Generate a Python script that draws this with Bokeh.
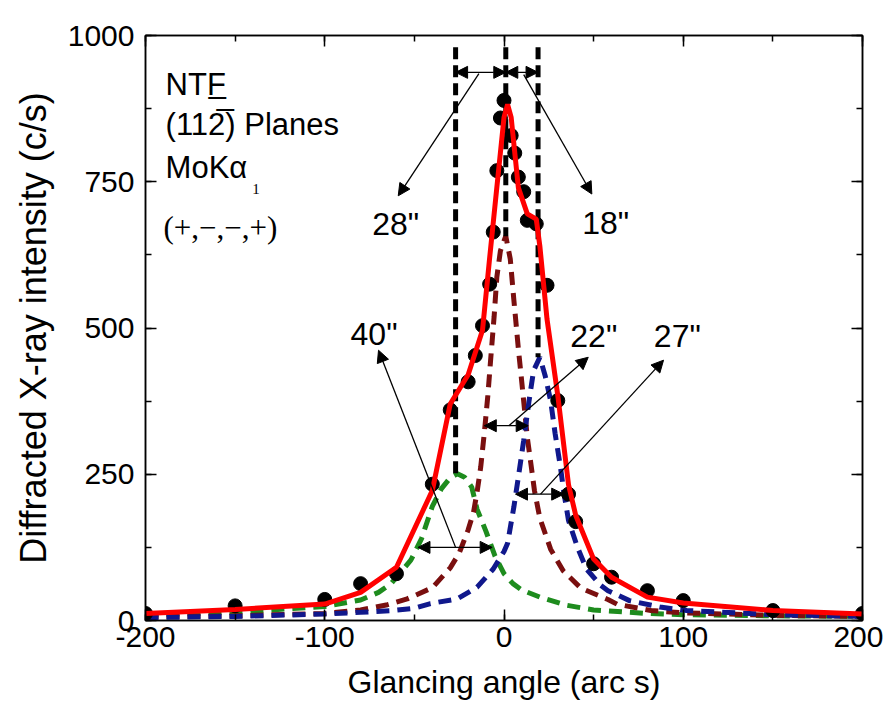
from bokeh.plotting import figure
from bokeh.models import (Range1d, LinearAxis, Arrow, NormalHead, SingleIntervalTicker,
                          CustomLabelingPolicy, CustomJSTickFormatter)
from bokeh.core.properties import value
from bokeh.embed import file_html
from bokeh.resources import INLINE

# measured points
data_x = [-200, -150, -100, -80, -60, -40, -30, -20, -16, -12, -8, -6, -4, -2, 0, 4, 6, 8, 11, 13, 18, 24, 30, 36, 40, 50, 60, 80, 100, 150, 200]
data_y = [12, 25, 36, 63, 80, 233, 360, 408, 453, 504, 575, 664, 769, 859, 889, 829, 799, 758, 733, 684, 678, 573, 376, 216, 169, 97, 74, 51, 34, 17, 12]

# total fit (red)
fit_x = [-200, -150, -100, -80, -60, -40, -30, -20, -12, -8, -4, 0, 2, 4, 8, 13, 18, 20, 24, 30, 36, 40, 50, 60, 80, 100, 150, 200]
fit_y = [12, 19, 28, 48, 91, 222, 370, 420, 496, 620, 740, 860, 882, 860, 740, 695, 686, 640, 515, 385, 232, 180, 105, 74, 40, 30, 17, 11]

# component 1 (green, 40")
g_x = [-200, -150, -100, -80, -70, -63, -57, -52, -46, -40, -35, -30, -26, -22, -18, -15, -10, -5, 0, 5, 10, 20, 35, 50, 80, 100, 150, 200]
g_y = [9, 14, 24, 35, 48, 63, 85, 103, 140, 195, 225, 244, 251, 245, 228, 190, 152, 110, 80, 63, 52, 40, 26, 18, 12, 10, 8, 7]

# component 2 (dark red, 22")
b_x = [-200, -150, -100, -80, -65, -54, -40, -30, -25, -20, -17, -15, -13, -11, -9, -7.5, -5.5, -4, -2, 1, 3.5, 5.5, 8, 10.5, 13, 15, 17, 20, 26, 33, 43, 58, 63, 82, 100, 150, 200]
b_y = [6, 8, 12, 18, 27, 37, 56, 90, 115, 155, 185, 220, 262, 320, 385, 444, 520, 587, 632, 657, 618, 548, 465, 390, 313, 268, 222, 175, 122, 85, 55, 36, 28, 17, 13, 9, 7]

# component 3 (navy, 27")
n_x = [-200, -150, -100, -80, -62, -50, -41, -26, -15, -6, 0, 2, 5.5, 8, 11, 14, 16.5, 20, 23, 26, 28.5, 31.5, 33.5, 36, 41, 46, 54, 58, 70, 87, 102, 150, 200]
n_y = [5, 7, 11, 14, 17, 21, 29, 37, 57, 88, 118, 132, 194, 245, 308, 376, 427, 450, 418, 376, 320, 262, 217, 171, 125, 88, 60, 51, 34, 23, 17, 10, 7]

# component peak positions and heights (vertical dashed markers)
peak_pos = [-27, 1, 19]
peak_top = [980, 980, 980]
peak_h = [251, 657, 450]

FONT = "Liberation Sans"

p = figure(width=883, height=708, x_range=Range1d(-200, 200), y_range=Range1d(0, 1000),
           output_backend="svg", toolbar_location=None,
           min_border_left=145, min_border_right=21, min_border_top=35, min_border_bottom=88)
p.xgrid.visible = False
p.ygrid.visible = False
p.outline_line_color = "black"
p.outline_line_width = 1.5
p.background_fill_color = "white"
p.border_fill_color = "white"

p.xaxis.ticker = SingleIntervalTicker(interval=100, num_minor_ticks=2)
p.yaxis.ticker = SingleIntervalTicker(interval=250, num_minor_ticks=2)
p.xaxis.formatter = CustomJSTickFormatter(code="return String(tick)")

for ax in [p.xaxis[0], p.yaxis[0]]:
    ax.major_tick_in = 11
    ax.major_tick_out = 0
    ax.minor_tick_in = 6
    ax.minor_tick_out = 0
    ax.axis_line_width = 1.5
    ax.major_tick_line_width = 1.5
    ax.minor_tick_line_width = 1.5
    ax.major_label_text_font = FONT
    ax.major_label_text_font_size = "30px"
    ax.major_label_text_color = "black"
    ax.axis_label_text_font = FONT
    ax.axis_label_text_font_style = "normal"
    ax.axis_label_text_color = "black"

p.xaxis.axis_label = "Glancing angle (arc s)"
p.yaxis.axis_label = "Diffracted X-ray intensity (c/s)"
p.xaxis.axis_label_text_font_size = "32px"
p.yaxis.axis_label_text_font_size = "36px"
p.xaxis.major_label_standoff = 6
p.yaxis.major_label_standoff = 11
p.xaxis.axis_label_standoff = 14
p.yaxis.axis_label_standoff = 11

no_labels = CustomLabelingPolicy(code="return new Set()")
for loc, tk in [("right", SingleIntervalTicker(interval=250, num_minor_ticks=2)),
                ("above", SingleIntervalTicker(interval=100, num_minor_ticks=2))]:
    ax = LinearAxis(ticker=tk, major_tick_in=11, major_tick_out=0, minor_tick_in=6, minor_tick_out=0,
                    axis_line_width=1.5, major_tick_line_width=1.5, minor_tick_line_width=1.5,
                    major_label_text_font_size="8px", major_label_standoff=0,
                    major_label_policy=no_labels)
    p.add_layout(ax, loc)

# components
p.line(g_x, g_y, line_color="#1e8c1e", line_width=5, line_dash="13 8")
p.line(b_x, b_y, line_color="#7a0f0f", line_width=5, line_dash="13 8")
p.line(n_x, n_y, line_color="#10188c", line_width=5, line_dash="13 8")

# peak markers
p.segment(x0=peak_pos, y0=peak_top, x1=peak_pos, y1=peak_h, line_color="black", line_width=5, line_dash="12 6")

# data
p.scatter(data_x, data_y, size=14, color="black")
# fit
p.line(fit_x, fit_y, line_color="#ff0000", line_width=5)

def arrow(x0, y0, x1, y1, both=False):
    head = NormalHead(size=12, fill_color="black", line_color="black", line_width=1)
    start = NormalHead(size=12, fill_color="black", line_color="black", line_width=1) if both else None
    p.add_layout(Arrow(x_start=x0, y_start=y0, x_end=x1, y_end=y1, line_width=1.3,
                       line_color="black", end=head, start=start))

# 28" and 18" separations
arrow(-27, 937, 1, 937, both=True)
arrow(1, 937, 19, 937, both=True)
arrow(-14, 935, -59, 726)
arrow(11, 933, 49, 729)
# FWHMs
arrow(-48, 125, -6.6, 125, both=True)
arrow(-27, 125, -70, 462)
arrow(-11, 333, 13.5, 333, both=True)
arrow(2.7, 333, 47, 450)
arrow(6.4, 216, 33.3, 216, both=True)
arrow(20.4, 216, 89, 445)

def txt(x, y, s, size, font=FONT):
    p.text(x=[x], y=[y], text=[s], text_font=value(font), text_font_size=size,
           text_color="black", text_baseline="middle", text_align="left")

txt(-73.5, 677, "28\"", "32px")
txt(43.6, 679, "18\"", "32px")
txt(-85.6, 490, "40\"", "32px")
txt(37, 487, "22\"", "32px")
txt(83.6, 487, "27\"", "32px")

txt(-188.8, 916, "NT" + "F\u0332", "31px")
txt(-188.8, 848, "(112\u0305) Planes", "31px")
txt(-188.8, 774, "MoK\u03b1", "31px")
txt(-140.5, 738, "1", "15px", "Liberation Serif")
txt(-190, 672, "(+,\u2212,\u2212,+)", "31px", "Liberation Serif")

open("out.html", "w").write(file_html(p, INLINE))
